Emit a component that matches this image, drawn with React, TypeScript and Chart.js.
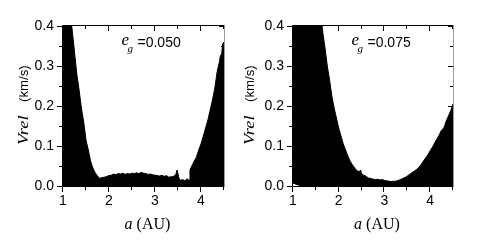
import React, { useEffect, useRef } from "react";
import { Chart, registerables } from "chart.js";

Chart.register(...registerables);

// ---- data ----
const xMajorTicks = [1, 2, 3, 4];
const xMinorTicks = [1.5, 2.5, 3.5, 4.5];
const yMajorTicks = [0, 0.1, 0.2, 0.3, 0.4];
const yMinorTicks = [0.05, 0.15, 0.25, 0.35];

const egLeft = "0.050";
const egRight = "0.075";

const aLeft = [
  1.0, 1.05, 1.1, 1.15, 1.2, 1.25, 1.3, 1.35, 1.4, 1.45, 1.5, 1.55, 1.6, 1.65, 1.7, 1.75, 1.8, 1.85,
  1.9, 1.95, 2.0, 2.05, 2.1, 2.15, 2.2, 2.25, 2.3, 2.35, 2.4, 2.45, 2.5, 2.55, 2.6, 2.65, 2.7, 2.75,
  2.8, 2.85, 2.9, 2.95, 3.0, 3.05, 3.1, 3.15, 3.2, 3.25, 3.3, 3.35, 3.4, 3.45, 3.48, 3.52, 3.55, 3.6,
  3.65, 3.7, 3.74, 3.76, 3.8, 3.85, 3.9, 3.95, 4.0, 4.05, 4.1, 4.15, 4.2, 4.25, 4.3, 4.35, 4.4, 4.42,
  4.45, 4.47, 4.5,
];
const vLeft = [
  0.55, 0.5, 0.46, 0.43, 0.39, 0.335, 0.28, 0.24, 0.195, 0.16, 0.115, 0.09, 0.062, 0.045, 0.033, 0.025,
  0.019, 0.021, 0.022, 0.024, 0.026, 0.027, 0.03, 0.028, 0.031, 0.03, 0.032, 0.029, 0.031, 0.03, 0.032,
  0.031, 0.033, 0.031, 0.034, 0.032, 0.031, 0.029, 0.03, 0.028, 0.027, 0.026, 0.025, 0.027, 0.024, 0.026,
  0.022, 0.023, 0.024, 0.028, 0.04, 0.02, 0.014, 0.016, 0.013, 0.018, 0.014, 0.04, 0.05, 0.062, 0.072,
  0.09, 0.105, 0.125, 0.145, 0.165, 0.19, 0.215, 0.245, 0.285, 0.31, 0.325, 0.33, 0.355, 0.36,
];

const aRight = [
  1.0, 1.5, 1.6, 1.65, 1.7, 1.75, 1.8, 1.85, 1.9, 1.95, 2.0, 2.05, 2.1, 2.15, 2.2, 2.25, 2.3, 2.35,
  2.4, 2.45, 2.48, 2.5, 2.55, 2.6, 2.65, 2.7, 2.75, 2.8, 2.85, 2.9, 2.95, 3.0, 3.05, 3.1, 3.15, 3.2,
  3.25, 3.3, 3.35, 3.4, 3.45, 3.5, 3.55, 3.6, 3.65, 3.7, 3.75, 3.8, 3.85, 3.9, 3.95, 4.0, 4.05, 4.1,
  4.15, 4.2, 4.25, 4.3, 4.35, 4.4, 4.45, 4.5,
];
const vRight = [
  0.9, 0.6, 0.44, 0.385, 0.345, 0.3, 0.265, 0.225, 0.195, 0.17, 0.145, 0.125, 0.105, 0.09, 0.075, 0.062,
  0.053, 0.045, 0.038, 0.036, 0.04, 0.03, 0.027, 0.024, 0.02, 0.019, 0.017, 0.016, 0.017, 0.015, 0.016,
  0.014, 0.013, 0.012, 0.011, 0.012, 0.012, 0.014, 0.016, 0.019, 0.021, 0.025, 0.029, 0.033, 0.037,
  0.041, 0.046, 0.053, 0.062, 0.07, 0.078, 0.088, 0.097, 0.108, 0.118, 0.128, 0.14, 0.145, 0.162, 0.175,
  0.188, 0.205,
];
// lower edge of the filled region (small empty patch near a = 1 in the right panel)
const aRightLow = [1.0, 1.05, 1.1, 1.15, 4.5];
const vRightLow = [0.006, 0.004, 0.002, 0.0, 0.0];

const SANS = "'Liberation Sans', Arial, sans-serif";
const SERIF = "'Liberation Serif', 'Times New Roman', serif";

type PanelProps = {
  a: number[];
  v: number[];
  lowA?: number[];
  lowV?: number[];
  eg: string;
  yAxisWidth: number;
  rightPad: number;
  yTitleX: number;
};

function Panel(props: PanelProps) {
  const ref = useRef<HTMLCanvasElement | null>(null);
  useEffect(() => {
    const canvas = ref.current;
    if (!canvas) return;
    const { a, v, lowA, lowV, eg, yAxisWidth, rightPad, yTitleX } = props;

    const framePlugin = {
      id: "frame",
      afterDraw(chart: any) {
        const ctx = chart.ctx as CanvasRenderingContext2D;
        const area = chart.chartArea;
        const xs = chart.scales.x;
        const ys = chart.scales.y;
        const L = Math.round(area.left), R = Math.round(area.right);
        const T = Math.round(area.top), B = Math.round(area.bottom);
        ctx.save();
        ctx.lineWidth = 1;
        // frame
        ctx.strokeStyle = "#000";
        ctx.beginPath();
        ctx.moveTo(L - 0.5, B + 0.5);
        ctx.lineTo(R + 0.5, B + 0.5);
        ctx.moveTo(L - 0.5, T - 0.5);
        ctx.lineTo(R + 0.5, T - 0.5);
        ctx.moveTo(L - 0.5, T - 0.5);
        ctx.lineTo(L - 0.5, B + 0.5);
        ctx.stroke();
        ctx.strokeStyle = "#9a9a9a";
        ctx.beginPath();
        ctx.moveTo(R + 0.5, T - 0.5);
        ctx.lineTo(R + 0.5, B + 0.5);
        ctx.stroke();
        // ticks
        ctx.strokeStyle = "#000";
        ctx.beginPath();
        const xt = (vals: number[], len: number) => {
          vals.forEach((val) => {
            const px = Math.round(xs.getPixelForValue(val)) - 0.5;
            ctx.moveTo(px, B + 1);
            ctx.lineTo(px, B + 1 + len);
            ctx.moveTo(px, T);
            ctx.lineTo(px, T + len);
          });
        };
        const yt = (vals: number[], len: number) => {
          vals.forEach((val) => {
            const py = Math.round(ys.getPixelForValue(val)) + 0.5;
            ctx.moveTo(L - 1, py);
            ctx.lineTo(L - 1 - len, py);
            ctx.moveTo(R, py);
            ctx.lineTo(R - len, py);
          });
        };
        xt(xMajorTicks, 5);
        xt(xMinorTicks, 3);
        yt(yMajorTicks, 5);
        yt(yMinorTicks, 3);
        ctx.stroke();

        ctx.fillStyle = "#000";
        ctx.textAlign = "left";
        ctx.textBaseline = "alphabetic";
        // annotation e_g = value
        const x0 = L + 58.5;
        ctx.font = `italic 17px ${SERIF}`;
        ctx.fillText("e", x0, 45);
        ctx.font = `italic 11px ${SERIF}`;
        ctx.fillText("g", x0 + 6, 52);
        ctx.font = `14px ${SANS}`;
        ctx.fillText("=" + eg, x0 + 16, 47);

        // x title
        ctx.font = `italic 16px ${SERIF}`;
        const wA = ctx.measureText("a").width;
        ctx.font = `16px ${SERIF}`;
        const wRest = ctx.measureText(" (AU)").width;
        const cx = (L + R) / 2 + 4;
        const sx = cx - (wA + wRest) / 2;
        ctx.font = `italic 16px ${SERIF}`;
        ctx.fillText("a", sx, 229);
        ctx.font = `16px ${SERIF}`;
        ctx.fillText(" (AU)", sx + wA, 229);

        // y title
        ctx.save();
        ctx.translate(yTitleX, 145);
        ctx.rotate(-Math.PI / 2);
        ctx.save();
        ctx.scale(1.22, 1);
        ctx.font = `italic 15px ${SERIF}`;
        ctx.fillText("Vrel", 0, 0);
        ctx.restore();
        ctx.save();
        ctx.translate(43, 0);
        ctx.scale(1.1, 1);
        ctx.font = `12px ${SANS}`;
        ctx.fillText("(km/s)", 0, 0);
        ctx.restore();
        ctx.restore();

        ctx.restore();
      },
    };

    const datasets: any[] = [
      {
        data: a.map((x, i) => ({ x, y: v[i] })),
        borderColor: "#000",
        borderWidth: 1,
        backgroundColor: "#000",
        pointRadius: 0,
        tension: 0,
        fill: lowA ? 1 : "origin",
      },
    ];
    if (lowA && lowV) {
      datasets.push({
        data: lowA.map((x, i) => ({ x, y: lowV[i] })),
        borderColor: "rgba(0,0,0,0)",
        borderWidth: 0,
        backgroundColor: "rgba(0,0,0,0)",
        pointRadius: 0,
        tension: 0,
        fill: false,
      });
    }

    const chart = new Chart(canvas, {
      type: "line",
      data: { datasets },
      plugins: [framePlugin],
      options: {
        responsive: false,
        devicePixelRatio: 1,
        animation: false,
        events: [],
        layout: { padding: { left: 0, top: 26, right: rightPad, bottom: 0 } },
        plugins: { legend: { display: false }, tooltip: { enabled: false }, title: { display: false } },
        scales: {
          x: {
            type: "linear",
            min: 1,
            max: 4.5,
            grid: { display: false, drawTicks: false },
            border: { display: false },
            ticks: {
              stepSize: 1,
              includeBounds: false,
              padding: 7,
              color: "#000",
              font: { family: SANS, size: 14 },
              maxRotation: 0,
              callback: (val: any) => String(val),
            },
            afterFit: (s: any) => {
              s.height = 54;
            },
          },
          y: {
            type: "linear",
            min: 0,
            max: 0.4,
            grid: { display: false, drawTicks: false },
            border: { display: false },
            ticks: {
              stepSize: 0.1,
              padding: 9,
              color: "#000",
              font: { family: SANS, size: 14 },
              callback: (val: any) => Number(val).toFixed(1),
            },
            afterFit: (s: any) => {
              s.width = yAxisWidth;
            },
          },
        },
      } as any,
    });
    return () => chart.destroy();
  }, []);
  return <canvas ref={ref} width={240} height={240} style={{ width: 240, height: 240, display: "block" }} />;
}

export default function App() {
  return (
    <div style={{ position: "absolute", left: 0, top: 0, width: 480, height: 240, background: "#fff", display: "flex" }}>
      <Panel a={aLeft} v={vLeft} eg={egLeft} yAxisWidth={63} rightPad={16} yTitleX={28} />
      <Panel a={aRight} v={vRight} lowA={aRightLow} lowV={vRightLow} eg={egRight} yAxisWidth={53} rightPad={27} yTitleX={13.5} />
    </div>
  );
}
